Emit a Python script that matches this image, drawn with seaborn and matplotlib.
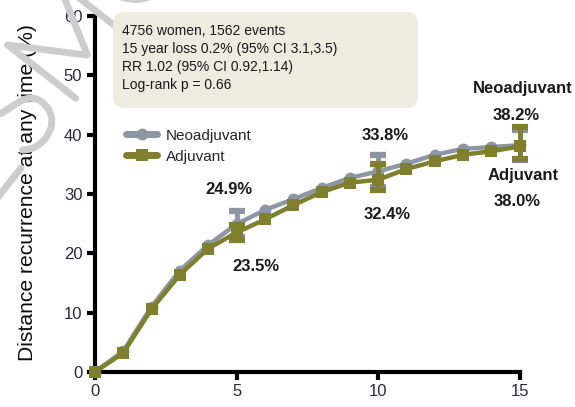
import matplotlib
matplotlib.use("Agg")
import matplotlib.pyplot as plt
import matplotlib.patheffects as pe
import seaborn as sns
import pandas as pd
from matplotlib.patches import FancyBboxPatch
from matplotlib.lines import Line2D

# Cumulative distant recurrence (%) by year since diagnosis
years = list(range(16))
neo = [0, 3.5, 11.0, 17.1, 21.4, 24.9, 27.3, 29.1, 31.0, 32.7, 33.8, 35.1, 36.6, 37.6, 37.9, 38.2]
adj = [0, 3.2, 10.6, 16.4, 20.8, 23.5, 25.7, 28.1, 30.3, 31.9, 32.4, 34.2, 35.5, 36.6, 37.2, 38.0]

# 95% confidence limits at 5, 10 and 15 years
ci_years = [5, 10, 15]
neo_lo = [22.7, 31.2, 35.7]
neo_hi = [27.1, 36.5, 40.7]
adj_lo = [22.2, 30.6, 35.9]
adj_hi = [24.8, 35.1, 41.2]

series = ["Neoadjuvant", "Adjuvant"]
colors = {"Neoadjuvant": "#8c97a3", "Adjuvant": "#7f7f2e"}
markers = {"Neoadjuvant": "o", "Adjuvant": "s"}

info_lines = [
    "4756 women, 1562 events",
    "15 year loss 0.2% (95% CI 3.1,3.5)",
    "RR 1.02 (95% CI 0.92,1.14)",
    "Log-rank p = 0.66",
]

xticks = [0, 5, 10, 15]
yticks = [0, 10, 20, 30, 40, 50, 60]

df = pd.DataFrame({
    "year": years * 2,
    "risk": neo + adj,
    "group": ["Neoadjuvant"] * len(years) + ["Adjuvant"] * len(years),
})

sns.set_style("white")
plt.rcParams["font.family"] = ["Liberation Sans", "DejaVu Sans"]

fig = plt.figure(figsize=(5.75, 4.07), dpi=100)
ax = fig.add_axes([0.165, 0.086, 0.739, 0.875])

ci = {
    "Neoadjuvant": (neo, neo_lo, neo_hi),
    "Adjuvant": (adj, adj_lo, adj_hi),
}
for i, g in enumerate(series):
    sub = df[df["group"] == g]
    sns.lineplot(data=sub, x="year", y="risk", ax=ax, color=colors[g],
                 marker=markers[g], markersize=8.5, markeredgewidth=0,
                 linewidth=3.2, clip_on=False, zorder=3 + i, legend=False)
    vals, lo, hi = ci[g]
    centers = [vals[years.index(y)] for y in ci_years]
    err = [[c - l for c, l in zip(centers, lo)], [h - c for c, h in zip(centers, hi)]]
    ax.errorbar(ci_years, centers, yerr=err, fmt="none", ecolor=colors[g],
                elinewidth=3.5, capsize=5.5, capthick=4.5, zorder=3 + i, clip_on=False)

ax.set_xlim(0, 15)
ax.set_ylim(0, 60)
ax.set_xticks(xticks)
ax.set_yticks(yticks)
sns.despine(ax=ax)
for s in ["left", "bottom"]:
    ax.spines[s].set_linewidth(3.0)
    ax.spines[s].set_color("black")
ax.tick_params(axis="both", length=6, width=3.0, color="black",
               labelsize=12, labelcolor="#2a2a3a", pad=3, direction="out")
ax.tick_params(axis="x", bottom=True)
ax.tick_params(axis="y", left=True)
ax.set_xlabel("")
ax.set_ylabel("Distance recurrence at any time (%)", fontsize=15.2, color="#0d0d0d")
ax.yaxis.set_label_coords(-0.137, 0.504)

# Point labels at 5, 10 and 15 years
lab_kw = dict(textcoords="offset pixels", ha="center", va="center",
              fontsize=12, fontweight="bold", color="#1a1a1a", annotation_clip=False)
offs_neo = [(-8, 35), (7, 36), (-4, 30)]
offs_adj = [(19, -34), (9, -35), (-3, -55)]
for yr, o in zip(ci_years, offs_neo):
    v = neo[years.index(yr)]
    ax.annotate(f"{v:.1f}%", (yr, v), xytext=o, **lab_kw)
for yr, o in zip(ci_years, offs_adj):
    v = adj[years.index(yr)]
    ax.annotate(f"{v:.1f}%", (yr, v), xytext=o, **lab_kw)
ax.annotate("Neoadjuvant", (15, neo[-1]), xytext=(3, 57), **lab_kw)
ax.annotate("Adjuvant", (15, adj[-1]), xytext=(3, -29), **lab_kw)

# Legend
handles = [Line2D([], [], color=colors[g], marker=markers[g], markersize=8.5,
                  markeredgewidth=0, linewidth=5) for g in series]
ax.legend(handles, series, loc="upper left", bbox_to_anchor=(0.06, 0.7),
          frameon=False, fontsize=11, handlelength=2.0, handletextpad=0.6,
          labelspacing=0.45, borderaxespad=0)

# Summary statistics box (drawn over the watermark)
box = FancyBboxPatch((1.13, 2.99), 3.05, 0.96, boxstyle="round,pad=0,rounding_size=0.12",
                     transform=fig.dpi_scale_trans, facecolor="#eeebe1",
                     edgecolor="none", zorder=5)
fig.patches.append(box)
for k, line in enumerate(info_lines):
    fig.text(1.22, 3.76 - 0.18 * k, line, transform=fig.dpi_scale_trans,
             fontsize=10, color="#1a1a1a", va="center", ha="left", zorder=6)

# Watermark
wm_color = "#cdcdcd"
fig.text(62 / 575, 1 - 62 / 407, "ESMO", rotation=52, rotation_mode="anchor",
         fontsize=90, color=wm_color, ha="center", va="center",
         family=["Lato", "DejaVu Sans"], fontweight="light", zorder=4,
         path_effects=[pe.withStroke(linewidth=4, foreground=wm_color)])

fig.savefig("out.png", dpi=100)
